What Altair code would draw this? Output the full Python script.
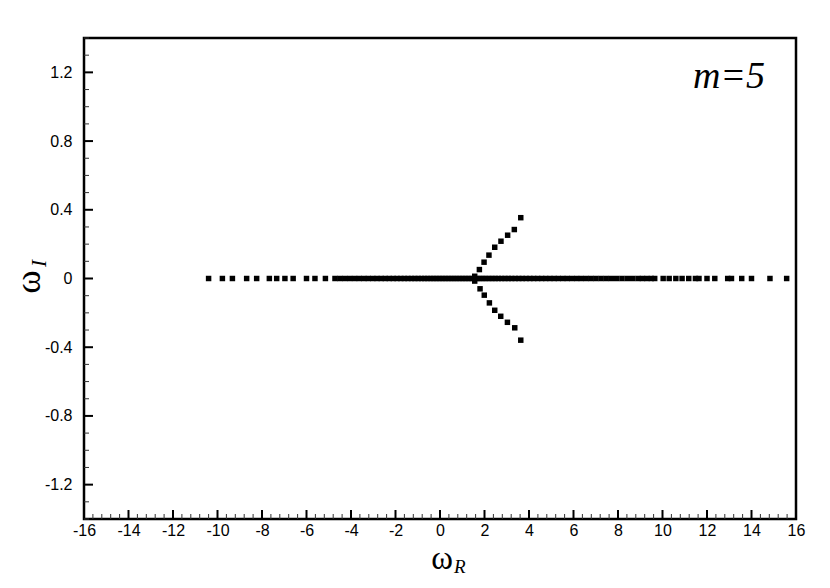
import altair as alt
import pandas as pd

# Real-axis eigenvalues (omega_I = 0)
real_x = [
    -10.4, -9.78, -9.33, -8.69, -8.24, -7.67, -7.34, -6.97, -6.6, -6.0, -5.62, -5.15,
    -4.72, -4.5, -4.28, -4.06, -3.84, -3.63, -3.42, -3.22, -3.02, -2.83, -2.64, -2.46,
    -2.28, -2.1, -1.93, -1.76, -1.6, -1.44, -1.28, -1.13, -0.98, -0.83, -0.69, -0.55,
    -0.41, -0.28, -0.15, -0.02, 0.11, 0.24, 0.37, 0.5, 0.63, 0.76, 0.89, 1.02, 1.15,
    1.28, 1.41, 1.54, 1.67, 1.8, 1.93, 2.06, 2.2, 2.34, 2.48, 2.62, 2.77, 2.92, 3.07,
    3.22, 3.38, 3.54, 3.7, 3.87, 4.04, 4.21, 4.39, 4.57, 4.75, 4.94, 5.13, 5.32, 5.52,
    5.72, 5.93, 6.14, 6.35, 6.57, 6.79, 7.01, 7.24, 7.47, 7.7, 7.94, 8.18, 8.42, 8.66,
    8.9, 9.1, 9.3, 9.5, 9.65, 10.03, 10.3, 10.6, 10.88, 11.18, 11.48, 11.64, 12.0, 12.35,
    12.93, 13.1, 13.56, 14.0, 14.83, 15.58,
]

# Complex branch (upper and lower)
branch_up_x = [1.56, 1.77, 1.98, 2.2, 2.46, 2.74, 3.04, 3.34, 3.63]
branch_up_y = [0.013, 0.052, 0.095, 0.136, 0.182, 0.217, 0.252, 0.285, 0.354]
branch_lo_x = [1.56, 1.8, 1.99, 2.22, 2.46, 2.73, 3.03, 3.36, 3.63]
branch_lo_y = [-0.015, -0.06, -0.097, -0.142, -0.185, -0.22, -0.255, -0.287, -0.359]

# Axis ticks
x_major = list(range(-16, 17, 2))
y_major = [-1.2, -0.8, -0.4, 0, 0.4, 0.8, 1.2]
x_minor = [round(-16 + 0.4 * i, 2) for i in range(81) if i % 5]
y_minor = [round(-1.4 + 0.1 * i, 2) for i in range(29)]
y_minor = [v for v in y_minor if round(v / 0.4, 6) != round(v / 0.4)]

pts = pd.DataFrame({
    "x": real_x + branch_up_x + branch_lo_x,
    "y": [0.0] * len(real_x) + branch_up_y + branch_lo_y,
})

W, H = 712, 481
xs = alt.Scale(domain=[-16, 16], nice=False, zero=False)
ys = alt.Scale(domain=[-1.4, 1.4], nice=False, zero=False)

common = dict(ticks=False, domain=False, grid=False, title=None,
              labelFont="Liberation Sans", labelFontSize=16, labelColor="black",
              labelFlush=False, labelOverlap=False,
              labelExpr="toString(datum.value)")
xax = alt.Axis(values=x_major, labelPadding=3, **common)
yax = alt.Axis(values=y_major, labelPadding=12, **common)

points = alt.Chart(pts).mark_square(size=30, color="black", opacity=1).encode(
    x=alt.X("x:Q", scale=xs, axis=xax),
    y=alt.Y("y:Q", scale=ys, axis=yax),
)

xmaj = alt.Chart(pd.DataFrame({"x": x_major})).mark_rule(color="black", strokeWidth=2).encode(
    x=alt.X("x:Q", scale=xs, axis=xax), y=alt.value(H), y2=alt.value(H - 9))
xmin = alt.Chart(pd.DataFrame({"x": x_minor})).mark_rule(color="#333333", strokeWidth=1).encode(
    x=alt.X("x:Q", scale=xs, axis=xax), y=alt.value(H), y2=alt.value(H - 5))
ymaj = alt.Chart(pd.DataFrame({"y": y_major})).mark_rule(color="black", strokeWidth=2).encode(
    y=alt.Y("y:Q", scale=ys, axis=yax), x=alt.value(0), x2=alt.value(9))
ymin = alt.Chart(pd.DataFrame({"y": y_minor})).mark_rule(color="#333333", strokeWidth=1).encode(
    y=alt.Y("y:Q", scale=ys, axis=yax), x=alt.value(0), x2=alt.value(5))

label_m = alt.Chart(pd.DataFrame({"t": ["m=5"]})).mark_text(
    font="Liberation Serif", fontSize=38, fontStyle="italic", align="right",
    baseline="alphabetic", color="black").encode(
    text="t:N", x=alt.value(681), y=alt.value(50))

xt_w = alt.Chart(pd.DataFrame({"t": ["ω"]})).mark_text(
    font="Liberation Serif", fontSize=33, align="center", baseline="alphabetic",
    color="black").encode(text="t:N", x=alt.value(358), y=alt.value(531))
xt_s = alt.Chart(pd.DataFrame({"t": ["R"]})).mark_text(
    font="Liberation Serif", fontSize=19, fontStyle="italic", align="left",
    baseline="alphabetic", color="black").encode(text="t:N", x=alt.value(370), y=alt.value(535))

yt_w = alt.Chart(pd.DataFrame({"t": ["ω"]})).mark_text(
    font="Liberation Serif", fontSize=35, align="center", baseline="alphabetic",
    angle=270, color="black").encode(text="t:N", x=alt.value(-44), y=alt.value(244))
yt_s = alt.Chart(pd.DataFrame({"t": ["I"]})).mark_text(
    font="Liberation Serif", fontSize=21, fontStyle="italic", align="left",
    baseline="alphabetic", angle=270, color="black").encode(text="t:N", x=alt.value(-38), y=alt.value(229))

chart = alt.layer(
    xmin, xmaj, ymin, ymaj, points, label_m, xt_w, xt_s, yt_w, yt_s
).properties(
    width=W, height=H,
    autosize=alt.AutoSizeParams(type="none"),
    padding={"left": 76, "top": 30, "right": 26, "bottom": 59},
    background="white",
).configure_view(stroke="black", strokeWidth=2.5)

chart.save("out.html", embed_options={"renderer": "svg", "actions": False})
